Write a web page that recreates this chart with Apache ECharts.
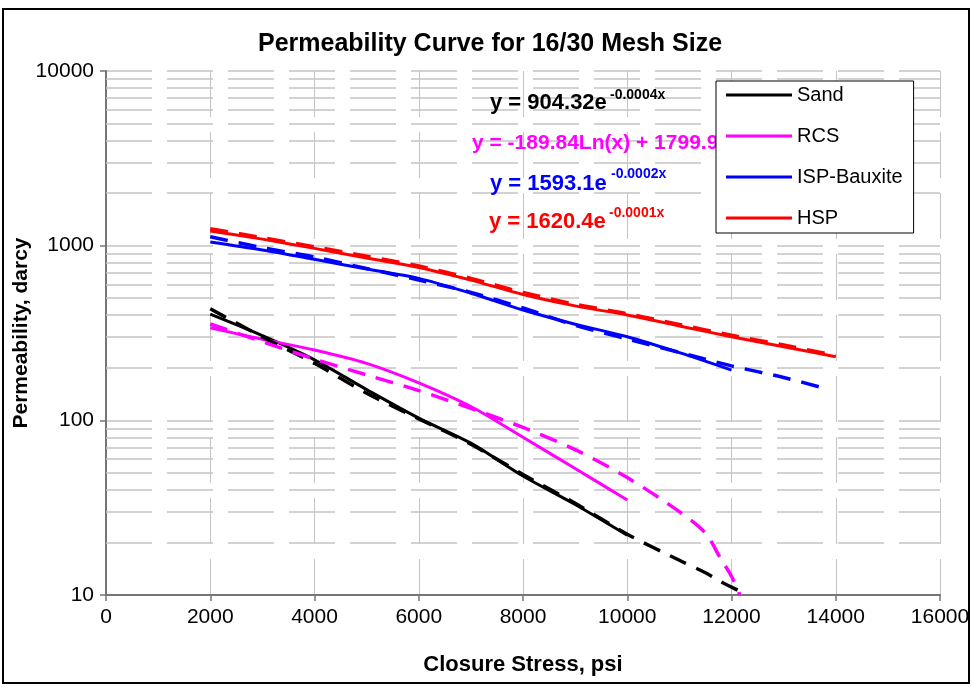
<!DOCTYPE html>
<html><head><meta charset="utf-8">
<script src="https://cdn.jsdelivr.net/npm/echarts@6/dist/echarts.min.js"></script>
<style>html,body{margin:0;padding:0;background:#fff}#c{width:973px;height:687px}</style>
</head><body><div id="c"></div>
<script>
// ---- data ----
const seriesNames = ['Sand', 'RCS', 'ISP-Bauxite', 'HSP'];
const seriesColors = ['#000000', '#FF00FF', '#0000FF', '#FF0000'];

const sandX = [2000, 3000, 4000, 5000, 6000, 7000, 8000, 9000, 10000];
const sandY = [405, 305, 222, 150, 103, 74, 48, 33, 22];
const sandTrendX = [2000, 3000, 4000, 5000, 6000, 7000, 8000, 9000, 10000, 11000, 11500, 11800, 12000, 12300];
const sandTrendY = [435, 300, 212, 143, 102, 73, 49, 33.5, 22.3, 15.8, 13.4, 11.9, 11.1, 10];

const rcsX = [2000, 3000, 4000, 5000, 6000, 7000, 8000, 9000, 10000];
const rcsY = [339, 291, 253, 212, 164, 120, 80, 53, 35];
const rcsTrendX = [2000, 3000, 4000, 5000, 6000, 7000, 8000, 9000, 10000, 11000, 11500, 11800, 12000, 12160];
const rcsTrendY = [356, 282, 224, 182, 148, 117, 91, 68, 47, 30, 22.6, 16, 12.8, 10];

const ispX = [2000, 3000, 4000, 5000, 6000, 7000, 8000, 9000, 10000, 11000, 12000];
const ispY = [1050, 945, 835, 735, 650, 534, 428, 355, 301, 244, 194];
const ispTrendX = [2000, 3000, 4000, 5000, 6000, 7000, 8000, 9000, 10000, 11000, 12000, 13000, 13800];
const ispTrendY = [1125, 975, 860, 740, 636, 540, 440, 350, 292, 245, 205, 176, 152];

const hspX = [2000, 3000, 4000, 5000, 6000, 7000, 8000, 9000, 10000, 11000, 12000, 13000, 14000];
const hspY = [1215, 1090, 965, 850, 750, 635, 525, 452, 401, 347, 301, 264, 231];
const hspTrendX = [2000, 3000, 4000, 5000, 6000, 7000, 8000, 9000, 10000, 11000, 12000, 13000, 14000];
const hspTrendY = [1250, 1110, 985, 870, 765, 650, 540, 462, 408, 354, 307, 270, 235];

const xMin = 0, xMax = 16000, xStep = 2000;
const yMin = 10, yMax = 10000;
const minorGridValues = [20,30,40,50,60,70,80,90,200,300,400,500,600,700,800,900,2000,3000,4000,5000,6000,7000,8000,9000];

const equations = [
  { base: 'y = 904.32e', exp: '-0.0004x' },
  { base: 'y = -189.84Ln(x) + 1799.9', exp: '' },
  { base: 'y = 1593.1e', exp: '-0.0002x' },
  { base: 'y = 1620.4e', exp: '-0.0001x' }
];

// ---- build ----
const FONT = '"Liberation Sans", Arial, sans-serif';
const zip = (xs, ys) => xs.map((x, i) => [x, ys[i]]);
const solidData = [zip(sandX, sandY), zip(rcsX, rcsY), zip(ispX, ispY), zip(hspX, hspY)];
const trendData = [zip(sandTrendX, sandTrendY), zip(rcsTrendX, rcsTrendY), zip(ispTrendX, ispTrendY), zip(hspTrendX, hspTrendY)];

const gridColor = '#c4c4c4';
const dashPat = [46, 15];

const series = [];
series.push({
  name: 'grid-minor', type: 'line', data: [], silent: true, z: 1,
  markLine: {
    silent: true, z: 1, symbol: ['none', 'none'], label: { show: false },
    lineStyle: { color: gridColor, width: 1.5, type: dashPat },
    emphasis: { disabled: true },
    data: minorGridValues.map(v => ({ yAxis: v }))
  }
});
seriesNames.forEach((n, i) => {
  series.push({
    name: n, type: 'line', data: solidData[i], symbol: 'none', smooth: 0.3,
    lineStyle: { color: seriesColors[i], width: 3 }, itemStyle: { color: seriesColors[i] }, z: 3
  });
});
seriesNames.forEach((n, i) => {
  series.push({
    name: n + ' trend', type: 'line', data: trendData[i], symbol: 'none', smooth: 0.3,
    lineStyle: { color: seriesColors[i], width: 3.5, type: [18, 11] }, itemStyle: { color: seriesColors[i] }, z: 4
  });
});

const eqPos = [
  { x: 490, y: 103, sx: 610, sy: 95 },
  { x: 472, y: 143 },
  { x: 490, y: 184, sx: 611, sy: 174 },
  { x: 489, y: 222, sx: 609, sy: 213 }
];
const graphics = [
  { type: 'rect', shape: { x: 3, y: 9, width: 966, height: 674 }, style: { fill: 'none', stroke: '#000', lineWidth: 2 }, silent: true, z: 0 },
  { type: 'text', style: { x: 490, y: 44, text: 'Permeability Curve for 16/30 Mesh Size', textAlign: 'center', textVerticalAlign: 'middle', font: 'bold 25px ' + FONT, fill: '#000' }, z: 10 }
];
equations.forEach((e, i) => {
  const p = eqPos[i];
  graphics.push({ type: 'text', z: 10, style: { x: p.x, y: p.y, text: e.base, textAlign: 'left', textVerticalAlign: 'middle', font: 'bold ' + (e.exp ? 22 : 21) + 'px ' + FONT, fill: seriesColors[i] } });
  if (e.exp) graphics.push({ type: 'text', z: 10, style: { x: p.sx, y: p.sy, text: e.exp, textAlign: 'left', textVerticalAlign: 'middle', font: 'bold 14px ' + FONT, fill: seriesColors[i] } });
});

const option = {
  animation: false,
  backgroundColor: '#fff',
  grid: { left: 106, top: 71, width: 834, height: 524, containLabel: false, outerBoundsMode: 'none' },
  xAxis: {
    type: 'value', min: xMin, max: xMax, interval: xStep,
    name: 'Closure Stress, psi', nameLocation: 'middle', nameGap: 59, nameMoveOverlap: false,
    nameTextStyle: { fontFamily: FONT, fontWeight: 'bold', fontSize: 22, color: '#000' },
    axisLine: { lineStyle: { color: '#767676', width: 2 } },
    axisTick: { show: true, length: 6, lineStyle: { color: '#767676', width: 1.5 } },
    axisLabel: { fontFamily: FONT, fontSize: 21, color: '#000', margin: 12, formatter: v => String(v) },
    splitLine: { show: true, lineStyle: { color: gridColor, width: 1, type: dashPat } }
  },
  yAxis: {
    type: 'log', logBase: 10, min: yMin, max: yMax,
    name: 'Permeability, darcy', nameLocation: 'middle', nameGap: 74, nameRotate: 90, nameMoveOverlap: false,
    nameTextStyle: { fontFamily: FONT, fontWeight: 'bold', fontSize: 21, color: '#000' },
    axisLine: { show: true, lineStyle: { color: '#767676', width: 2 } },
    axisTick: { show: true, length: 6, lineStyle: { color: '#767676', width: 1.5 } },
    axisLabel: { fontFamily: FONT, fontSize: 21, color: '#000', margin: 12, formatter: v => String(v) },
    splitLine: { show: true, lineStyle: { color: gridColor, width: 1.5, type: dashPat } },
    minorTick: { show: false }, minorSplitLine: { show: false }
  },
  legend: {
    data: seriesNames, orient: 'vertical', left: 716, top: 81,
    padding: [4, 11, 5, 10], itemGap: 21, itemWidth: 66, itemHeight: 3, icon: 'rect',
    backgroundColor: '#fff', borderColor: '#000', borderWidth: 1,
    textStyle: { fontFamily: FONT, fontSize: 20, color: '#000' },
    lineStyle: { width: 3 }, z: 20
  },
  series: series,
  graphic: graphics
};
const chart = echarts.init(document.getElementById('c'), null, { renderer: 'canvas' });
chart.setOption(option);
</script></body></html>
